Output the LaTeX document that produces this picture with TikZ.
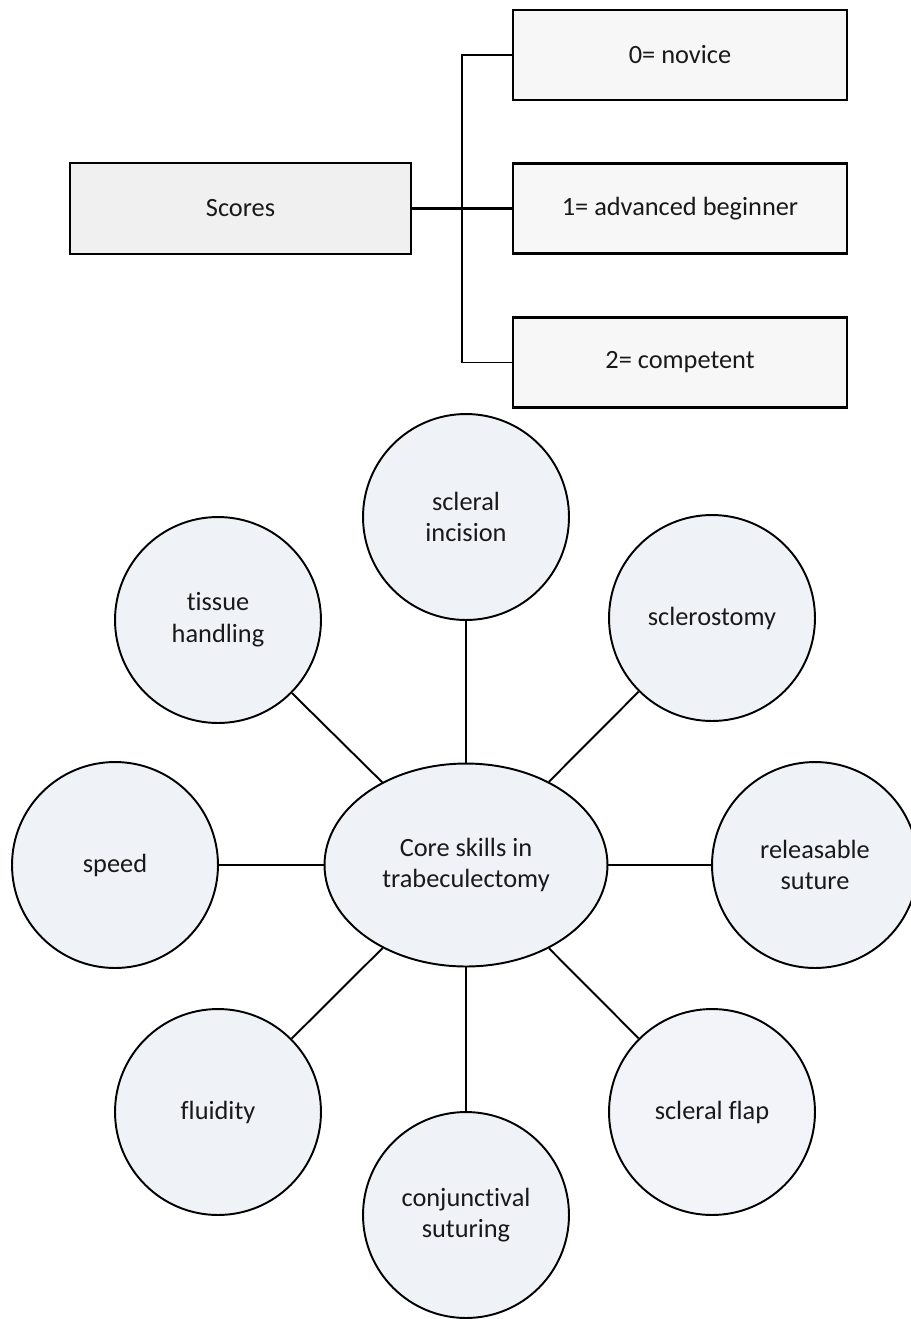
\documentclass[tikz,border=0pt]{standalone}
\usepackage{fontspec}
\setmainfont{Carlito}[Ligatures=NoCommon]
\usetikzlibrary{shapes.geometric}
\definecolor{scorefill}{RGB}{240,240,240}
\definecolor{levelfill}{RGB}{247,247,247}
\definecolor{skillfill}{RGB}{239,243,248}
\definecolor{flapfill}{RGB}{243,244,249}
\tikzset{
  txt/.style={font=\fontsize{15pt}{18pt}\selectfont, align=center, text=black!90},
  scorebox/.style={txt, draw=black, line width=1.2pt, fill=scorefill, minimum width=6.82cm, minimum height=1.82cm, inner sep=0pt},
  levelbox/.style={txt, draw=black, line width=1.2pt, fill=levelfill, minimum width=6.68cm, minimum height=1.8cm, inner sep=0pt},
  skill/.style={txt, circle, draw=black, line width=1.1pt, fill=skillfill, minimum size=4.12cm, inner sep=0pt},
  core/.style={txt, ellipse, draw=black, line width=1.1pt, fill=skillfill, minimum width=5.66cm, minimum height=4.06cm, inner sep=0pt},
  link/.style={draw=black, line width=1.1pt},
}
\begin{document}
\begin{tikzpicture}[x=0.02cm,y=-0.02cm]
\useasboundingbox (0,0) rectangle (910,1319);
% Scores tree
\node[scorebox] (scores) at (240.5,208.5) {Scores};
\node[levelbox] (l0) at (680,55) {0= novice};
\node[levelbox] (l1) at (680,208.5) {1= advanced beginner};
\node[levelbox] (l2) at (680,362.5) {2= competent};
\coordinate (jx) at (462,208.5);
\draw[link, line width=1.4pt] (scores.east) -- (l1.west);
\draw[link] (l0.west) -| (jx) |- (l2.west);
% Skills
\node[core] (core) at (466,865) {Core skills in\\trabeculectomy};
\node[skill] (incision) at (466,517) {scleral\\incision};
\node[skill] (tissue) at (218,620) {tissue\\handling};
\node[skill] (sclerostomy) at (712,618) {sclerostomy};
\node[skill] (speed) at (115,865) {speed};
\node[skill] (release) at (815,865) {releasable\\suture};
\node[skill] (fluidity) at (218,1112) {fluidity};
\node[skill] (conj) at (466,1215) {conjunctival\\suturing};
\node[skill, fill=flapfill] (flap) at (712,1112) {scleral flap};
\draw[link] (core) -- (incision);
\draw[link] (core) -- (tissue);
\draw[link] (core) -- (sclerostomy);
\draw[link] (core) -- (speed);
\draw[link] (core) -- (release);
\draw[link] (core) -- (fluidity);
\draw[link] (core) -- (conj);
\draw[link] (core) -- (flap);
\end{tikzpicture}
\end{document}
